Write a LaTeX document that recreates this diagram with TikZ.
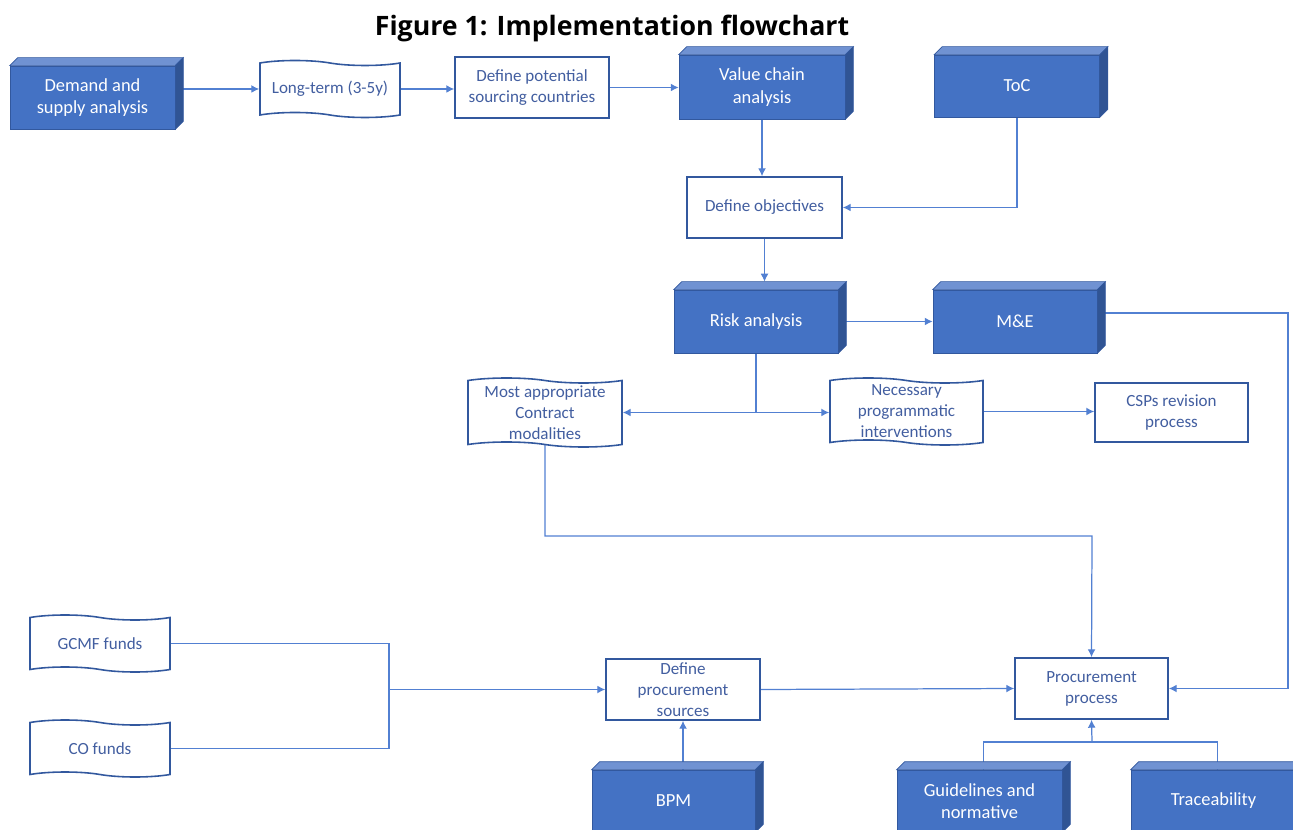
\documentclass[tikz,border=0pt]{standalone}
\usepackage{fontspec}
\setmainfont{Carlito}
\newfontfamily\titre{Open Sans}
\usetikzlibrary{shapes.symbols,arrows.meta,backgrounds}
\newcommand{\upx}{0.02cm}
\newcommand{\prof}{8}
\definecolor{bleubloc}{RGB}{68,114,196}
\definecolor{bleudessus}{RGB}{112,146,210}
\definecolor{bleucote}{RGB}{48,84,148}
\definecolor{bleubord}{RGB}{50,88,158}
\definecolor{bleulien}{RGB}{82,128,210}
\definecolor{bleutexte}{RGB}{66,94,160}
\tikzstyle{texte}=[font=\fontsize{9.7}{12}\selectfont, align=center, inner sep=0]
\tikzstyle{bloc}=[texte, font=\fontsize{10.5}{12.8}\selectfont, fill=bleubloc, draw=bleubord, line width=0.4pt, text=white, minimum width=165*\upx, minimum height=63*\upx]
\tikzstyle{boite}=[texte, draw=bleubord, line width=0.9pt, fill=white, text=bleutexte, minimum width=154*\upx, minimum height=61*\upx]
\tikzstyle{ruban}=[texte, tape, tape bend top=out and in, tape bend bottom=out and in, tape bend height=0.1cm, draw=bleubord, line width=0.9pt, fill=white, text=bleutexte, minimum width=140*\upx, minimum height=57*\upx]
\tikzstyle{lien}=[bleulien, line width=0.7pt]
\tikzstyle{dessus}=[fill=bleudessus, draw=bleubord, line width=0.4pt, line join=miter]
\tikzstyle{cote}=[fill=bleucote, draw=bleubord, line width=0.4pt, line join=miter]
% faces du dessus et de droite d'un bloc
\newcommand{\relief}[1]{
  \draw[dessus] (#1.north west) -- ++(\prof,-\prof) -- ([shift={(\prof,-\prof)}]#1.north east) -- (#1.north east) -- cycle;
  \draw[cote] (#1.north east) -- ++(\prof,-\prof) -- ([shift={(\prof,-\prof)}]#1.south east) -- (#1.south east) -- cycle;
}
\begin{document}
\begin{tikzpicture}[x=0.02cm, y=-0.02cm, >={Latex[length=4.5pt,width=4.5pt]}]
\useasboundingbox (0,0) rectangle (1293,830);
\clip (0,0) rectangle (1293,830);

\node[font=\titre\bfseries\fontsize{15.2}{17}\selectfont] (titre) at (612,28) {Figure 1: Implementation flowchart};

%ligne du haut
\node[bloc] (demande) at (92.5,97.5) {Demand and\\supply analysis};
\node[ruban] (longterme) at (330,89) {Long-term (3-5y)};
\node[boite] (pays) at (532,87.5) {Define potential\\sourcing countries};
\node[bloc, minimum width=166*\upx, minimum height=64*\upx] (chaine) at (762,87) {Value chain\\analysis};
\node[bloc, minimum height=62*\upx] (toc) at (1017,86) {ToC};
\relief{demande}
\relief{chaine}
\relief{toc}

%objectifs et risques
\node[boite, minimum width=155*\upx] (objectifs) at (764.5,207.5) {Define objectives};
\node[bloc, minimum width=164*\upx] (risque) at (756,321.5) {Risk analysis};
\node[bloc, minimum width=164*\upx] (me) at (1015,321.5) {M\&E};
\relief{risque}
\relief{me}

\node[ruban, minimum width=154*\upx, minimum height=69*\upx] (modalites) at (545,412.5) {Most appropriate\\Contract\\modalities};
\node[ruban, minimum width=153*\upx, minimum height=67*\upx] (interventions) at (906.5,411.5) {Necessary\\programmatic\\interventions};
\node[boite, minimum width=153*\upx, minimum height=59*\upx] (csp) at (1171.5,412.5) {CSPs revision\\process};

%ligne du bas
\node[ruban] (gcmf) at (100,643.5) {GCMF funds};
\node[ruban] (cof) at (100,748.5) {CO funds};
\node[boite] (sources) at (683,689.5) {Define\\procurement\\sources};
\node[boite, minimum width=153*\upx] (achats) at (1091.5,688.5) {Procurement\\process};
\node[bloc, minimum width=163*\upx, minimum height=62*\upx] (bpm) at (673.5,801) {BPM};
\node[bloc, minimum height=62*\upx] (normes) at (979.5,801) {Guidelines and\\normative};
\node[bloc, minimum height=62*\upx] (trace) at (1213.5,801) {Traceability};
\relief{bpm}
\relief{normes}
\relief{trace}

\coordinate (partage) at (risque.south |- modalites.east);
\coordinate (coude) at (1092,536);
\coordinate (rail) at (1288,313);
\coordinate (fonds) at (389,689.5);
\coordinate (jonction) at (1092,742);

\begin{scope}[on background layer]
\draw[lien,->] (demande.east |- longterme.west) -- (longterme.west);
\draw[lien,->] (longterme.east) -- (longterme.east -| pays.west);
\draw[lien,->] (pays.east) -- (pays.east -| chaine.west);
\draw[lien,->] (chaine.south) -- (chaine.south |- objectifs.north);
\draw[lien,->] (toc.south) |- (objectifs.east);
\draw[lien,->] (objectifs.south) -- ([shift={(0,-\prof)}]objectifs.south |- risque.north);
\draw[lien,->] (risque.east) -- (me.west);
\draw[lien] (risque.south) -- (partage);
\draw[lien,->] (partage) -- (modalites.east);
\draw[lien,->] (partage) -- (partage -| interventions.west);
\draw[lien,->] (interventions.east) -- (interventions.east -| csp.west);
\draw[lien,->] (me.east |- rail) -- (rail) |- (achats.east);
\draw[lien,->] (modalites.south) |- (coude) -- (achats.north);
\draw[lien] (gcmf.east) -| (fonds |- cof.east) -- (cof.east);
\draw[lien,->] (fonds) -- (sources.west);
\draw[lien,->] (sources.east) -- (achats.west);
\draw[lien,->] (sources.south |- bpm.north) -- (sources.south);
\draw[lien] ([shift={(4,0)}]normes.north) |- (jonction) -| ([shift={(4,0)}]trace.north);
\draw[lien,->] (jonction) -- (achats.south);
\end{scope}
\end{tikzpicture}
\end{document}
